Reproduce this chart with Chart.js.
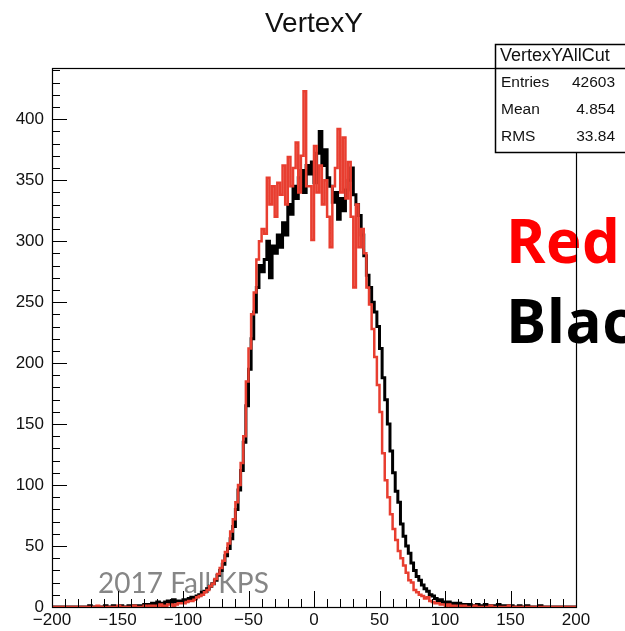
<!DOCTYPE html>
<html>
<head>
<meta charset="utf-8">
<title>VertexY</title>
<script src="https://cdn.jsdelivr.net/npm/chart.js@4.4.1/dist/chart.umd.min.js"></script>
<style>
  html, body { margin: 0; padding: 0; background: #fff; }
  canvas { display: block; }
</style>
</head>
<body>
<canvas id="vertexChart" width="625" height="631"></canvas>
<script>
// histogram binning (2 units per bin over -200..200)
const xLow = -200;
const xHigh = 200;
const binWidth = 2;
const yTop = 442;

// counts per bin, black = all cuts, red = comparison sample
const blackCounts = [
	0,0,0,0,0,0,0,0,0,0, 0,0,0,0,0,1,0,0,0,0, 0,1,0,0,1,0,0,1,0,0, 1,0,1,0,1,
	1,2,1,2,3,2,4,3,2,4,5,3,6,4,5,
	5,6,5,7,8,7,9,10,12,13,15,17,19,22,26,30,35,42,48,56,
	66,80,96,112,135,165,195,220,242,262,280,275,
	285,300,270,296,290,305,295,315,305,330,322,345,335,352,358,340,362,355,
	365,348,372,390,362,375,352,345,332,340,318,335,325,342,350,360,338,330,321,305,
	288,272,262,250,242,230,212,188,170,150,128,110,95,86,68,58,50,44,36,30,
	25,22,18,15,13,10,9,7,5,6,4,3,4,2,3,2,3,1,2,1,
	2,1,1,2,0,1,2,0,1,1, 0,2,1,0,1,0,1,0,0,1, 0,0,1,0,0,0,0,1,0,0, 0,0,0,0,0,0,0,0,0,0
];

const redCounts = [
	0,0,0,0,0,0,0,0,0,0, 0,0,0,0,0,0,0,0,1,0, 0,0,0,0,0,0,1,0,0,0, 0,0,1,0,0,
	0,1,0,1,1,0,1,2,1,1,2,2,1,2,3,
	3,3,4,5,5,6,8,9,10,12,14,17,19,23,27,32,38,45,52,62,
	72,86,100,118,140,185,212,240,258,285,300,310,
	306,352,330,345,320,348,338,362,330,369,345,360,381,340,370,423,345,345,
	301,378,340,362,330,350,320,295,345,360,392,340,385,335,365,320,262,330,295,310,
	290,262,248,228,205,182,160,126,104,90,76,64,55,46,40,34,28,22,20,14,
	12,10,9,7,8,5,4,3,3,2,2,1,2,1,1,0,1,0,1,0,
	0,0,1,0,0,0,0,0,1,0, 0,0,0,0,0,1,0,0,0,0, 0,0,0,0,0,0,0,0,0,0, 0,0,0,0,0,0,0,0,0,0
];

const xTickLabels = [-200, -150, -100, -50, 0, 50, 100, 150, 200];
const yTickLabels = [0, 50, 100, 150, 200, 250, 300, 350, 400];

const histTitle = 'VertexY';
const statsName = 'VertexYAllCut';
const statsRows = [['Entries', '42603'], ['Mean', '4.854'], ['RMS', '33.84']];
const watermark = '2017 Fall KPS';

// turn bin counts into step points: lower edge of each bin plus the closing edge
function toSteps(counts) {
	const pts = counts.map((c, i) => ({x: xLow + i * binWidth, y: c}));
	pts.push({x: xHigh, y: counts[counts.length - 1]});
	return pts;
}

function minus(v) {
	return v < 0 ? '\u2212' + Math.abs(v) : String(v);
}

function line(ctx, x1, y1, x2, y2) {
	ctx.beginPath();
	ctx.moveTo(x1, y1);
	ctx.lineTo(x2, y2);
	ctx.stroke();
}

// ROOT-like decorations: inward ticks, frame, title, stats box, notes
const rootStyle = {
	id: 'rootStyle',
	beforeDatasetsDraw(chart) {
		const ctx = chart.ctx;
		ctx.save();
		ctx.fillStyle = '#868686';
		ctx.font = '28px Lato';
		ctx.textBaseline = 'alphabetic';
		ctx.fillText(watermark, 98, 593);
		ctx.restore();
	},
	afterDraw(chart) {
		const {ctx, chartArea: a, scales: {x, y}} = chart;
		ctx.save();

		ctx.font = 'bold 60px "Open Sans"';
		ctx.letterSpacing = '0.5px';
		ctx.textBaseline = 'alphabetic';
		ctx.fillStyle = '#ff0000';
		ctx.fillText('Red', 506, 263);
		ctx.fillStyle = '#000';
		ctx.fillText('Black', 506, 343);
		ctx.letterSpacing = '0px';

		ctx.strokeStyle = '#000';
		ctx.lineWidth = 1;
		for (let v = xLow; v <= xHigh; v += 10) {
			const px = Math.round(x.getPixelForValue(v)) + 0.5;
			line(ctx, px, a.bottom, px, a.bottom - (v % 50 === 0 ? 16 : 8));
		}
		for (let v = 0; v <= yTop; v += 10) {
			const py = Math.round(y.getPixelForValue(v)) + 0.5;
			line(ctx, a.left, py, a.left + (v % 50 === 0 ? 15 : 8), py);
		}
		ctx.lineWidth = 1.2;
		ctx.strokeRect(Math.round(a.left) + 0.5, Math.round(a.top) + 0.5, Math.round(a.width), Math.round(a.height));

		ctx.fillStyle = '#111';
		ctx.font = '28px "Liberation Sans"';
		ctx.textAlign = 'center';
		ctx.fillText(histTitle, 314, 32);

		// stats box
		const bx = 495, by = 44, bw = 150, bh = 108;
		ctx.fillStyle = '#fff';
		ctx.fillRect(bx, by, bw, bh);
		ctx.lineWidth = 1.5;
		ctx.strokeRect(bx + 0.5, by + 0.5, bw, bh);
		line(ctx, bx, 68.5, bx + bw, 68.5);
		ctx.fillStyle = '#111';
		ctx.textBaseline = 'middle';
		ctx.textAlign = 'left';
		ctx.font = '18px "Liberation Sans"';
		ctx.fillText(statsName, 500, 56);
		ctx.font = '15.5px "Liberation Sans"';
		statsRows.forEach((r, i) => {
			const ry = 83 + i * 27;
			ctx.textAlign = 'left';
			ctx.fillText(r[0], 501, ry);
			ctx.textAlign = 'right';
			ctx.fillText(r[1], 615, ry);
		});
		ctx.restore();
	}
};

const ctx = document.getElementById('vertexChart').getContext('2d');
new Chart(ctx, {
	type: 'line',
	data: {
		datasets: [{
			label: 'red',
			data: toSteps(redCounts),
			stepped: 'after',
			borderColor: 'rgba(232, 62, 48, 1)',
			borderWidth: 2.5,
			pointRadius: 0,
			fill: false,
			order: 0
		}, {
			label: 'black',
			data: toSteps(blackCounts),
			stepped: 'after',
			borderColor: '#000',
			borderWidth: 3,
			pointRadius: 0,
			fill: false,
			order: 1
		}]
	},
	options: {
		responsive: false,
		animation: false,
		devicePixelRatio: 1,
		layout: {padding: {left: 0, top: 68, right: 49, bottom: 0}},
		plugins: {legend: {display: false}, tooltip: {enabled: false}, title: {display: false}},
		scales: {
			x: {
				type: 'linear',
				min: xLow,
				max: xHigh,
				afterFit: s => { s.height = 24; },
				afterBuildTicks: s => { s.ticks = xTickLabels.map(v => ({value: v})); },
				grid: {display: false, drawTicks: false},
				border: {display: false},
				ticks: {
					padding: 3,
					maxRotation: 0,
					autoSkip: false,
					color: '#111',
					font: {family: 'Liberation Sans', size: 17},
					callback: v => minus(v)
				}
			},
			y: {
				type: 'linear',
				min: 0,
				max: yTop,
				afterFit: s => { s.width = 52; },
				afterBuildTicks: s => { s.ticks = yTickLabels.map(v => ({value: v})); },
				grid: {display: false, drawTicks: false},
				border: {display: false},
				ticks: {
					padding: 8,
					autoSkip: false,
					color: '#111',
					font: {family: 'Liberation Sans', size: 17}
				}
			}
		}
	},
	plugins: [rootStyle]
});
</script>
</body>
</html>
